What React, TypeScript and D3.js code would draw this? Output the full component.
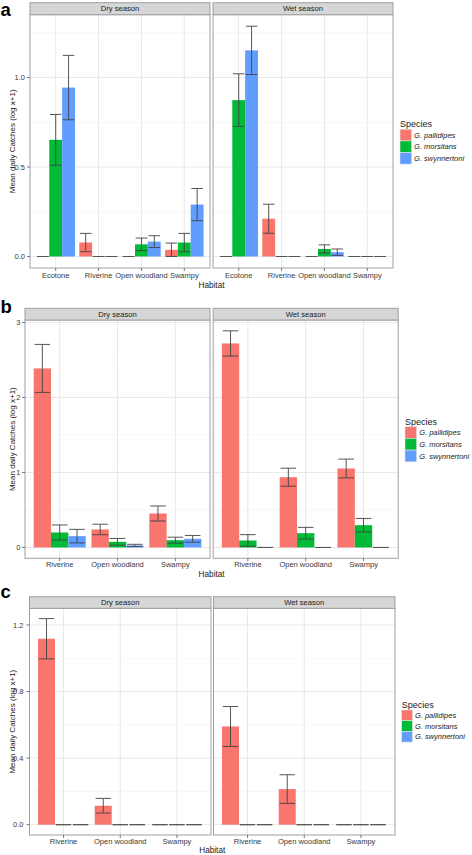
import React from "react";
import * as d3 from "d3";

const species = ["G. pallidipes", "G. morsitans", "G. swynnertoni"];
const speciesColors = ["#F8766D", "#00BA38", "#619CFF"];
const seasons = ["Dry season", "Wet season"];

const habitatsA = ["Ecotone", "Riverine", "Open woodland", "Swampy"];
const habitatsBC = ["Riverine", "Open woodland", "Swampy"];

// [species][habitat]
const aDryMean = [[0, 0.078, 0, 0.037], [0.652, 0, 0.068, 0.078], [0.944, 0, 0.083, 0.29]];
const aDryErr = [[0, 0.051, 0, 0.038], [0.142, 0, 0.035, 0.051], [0.18, 0, 0.033, 0.09]];
const aWetMean = [[0, 0.211, 0, 0], [0.874, 0, 0.042, 0], [1.152, 0, 0.024, 0]];
const aWetErr = [[0, 0.081, 0, 0], [0.147, 0, 0.023, 0], [0.135, 0, 0.018, 0]];

const bDryMean = [[2.387, 0.24, 0.453], [0.2, 0.075, 0.097], [0.151, 0.027, 0.115]];
const bDryErr = [[0.32, 0.07, 0.1], [0.1, 0.045, 0.04], [0.09, 0.015, 0.045]];
const bWetMean = [[2.72, 0.937, 1.053], [0.093, 0.19, 0.297], [0, 0, 0]];
const bWetErr = [[0.168, 0.12, 0.125], [0.078, 0.078, 0.09], [0, 0, 0]];

const cDryMean = [[1.117, 0.114, 0], [0, 0, 0], [0, 0, 0]];
const cDryErr = [[0.121, 0.044, 0], [0, 0, 0], [0, 0, 0]];
const cWetMean = [[0.59, 0.214, 0], [0, 0, 0], [0, 0, 0]];
const cWetErr = [[0.12, 0.086, 0], [0, 0, 0], [0, 0, 0]];

const aTicks = [0, 0.5, 1.0];
const bTicks = [0, 1, 2, 3];
const cTicks = [0, 0.4, 0.8, 1.2];

const FONT = "Liberation Sans, Arial, Helvetica, sans-serif";

type Layout = {
  label: string;
  labelY: number;
  stripTop: number;
  panelTop: number;
  panelBottom: number;
  left: number;
  width: number;
  gap: number;
  yLabelX: number;
  xLabelY: number;
  habitatY: number;
  legendX: number;
  legendTitleY: number;
  legendKeyTop: number;
  keySize: number;
  fmt: string;
};

type Facet = {
  layout: Layout;
  habitats: string[];
  means: number[][][];
  errs: number[][][];
  ticks: number[];
};

const facets: Facet[] = [
  {
    layout: {
      label: "a", labelY: 16, stripTop: 2.7, panelTop: 14.7, panelBottom: 268,
      left: 30, width: 180, gap: 3, yLabelX: 25, xLabelY: 277.8, habitatY: 287.5,
      legendX: 400, legendTitleY: 126.5, legendKeyTop: 129.3, keySize: 11.6, fmt: ".1f",
    },
    habitats: habitatsA,
    means: [aDryMean, aWetMean],
    errs: [aDryErr, aWetErr],
    ticks: aTicks,
  },
  {
    layout: {
      label: "b", labelY: 313, stripTop: 308.3, panelTop: 320, panelBottom: 558.3,
      left: 25, width: 185, gap: 3.2, yLabelX: 20.5, xLabelY: 567.2, habitatY: 576.5,
      legendX: 405, legendTitleY: 425, legendKeyTop: 426.7, keySize: 11.7, fmt: "d",
    },
    habitats: habitatsBC,
    means: [bDryMean, bWetMean],
    errs: [bDryErr, bWetErr],
    ticks: bTicks,
  },
  {
    layout: {
      label: "c", labelY: 598, stripTop: 596.7, panelTop: 608.3, panelBottom: 835,
      left: 29.5, width: 181.5, gap: 2.5, yLabelX: 23.5, xLabelY: 843.8, habitatY: 852.5,
      legendX: 401.7, legendTitleY: 707.5, legendKeyTop: 710, keySize: 10.7, fmt: ".1f",
    },
    habitats: habitatsBC,
    means: [cDryMean, cWetMean],
    errs: [cDryErr, cWetErr],
    ticks: cTicks,
  },
];

function FacetFigure({ f }: { f: Facet }) {
  const L = f.layout;
  let maxV = 0;
  f.means.forEach((m, si) =>
    m.forEach((row, sp) => row.forEach((v, h) => { maxV = Math.max(maxV, v + f.errs[si][sp][h]); }))
  );
  const y = d3.scaleLinear().domain([-0.05 * maxV, 1.05 * maxV]).range([L.panelBottom, L.panelTop]);
  const fmt = d3.format(L.fmt);
  const step = f.ticks[1] - f.ticks[0];
  const minor: number[] = [];
  const [d0, d1] = y.domain();
  for (let i = -1; i < f.ticks.length; i++) {
    const v = (i < 0 ? f.ticks[0] - step : f.ticks[i]) + step / 2;
    if (v > d0 && v < d1) minor.push(v);
  }
  const n = f.habitats.length;
  const plotRight = L.left + 2 * L.width + L.gap;
  const barW = 0.3;
  const ebW = 0.27;

  return (
    <g>
      <text x={0.5} y={L.labelY} fontFamily={FONT} fontWeight="bold" fontSize={18.5} fill="#000">{L.label}</text>
      {seasons.map((s, si) => {
        const x0 = L.left + si * (L.width + L.gap);
        const x = d3.scaleLinear().domain([0.4, n + 0.6]).range([x0, x0 + L.width]);
        return (
          <g key={s}>
            <rect x={x0} y={L.panelTop} width={L.width} height={L.panelBottom - L.panelTop} fill="#fff" />
            {minor.map((v) => (
              <line key={"mi" + v} x1={x0} x2={x0 + L.width} y1={y(v)} y2={y(v)} stroke="#F2F2F2" strokeWidth={0.6} />
            ))}
            {f.ticks.map((v) => (
              <line key={"ma" + v} x1={x0} x2={x0 + L.width} y1={y(v)} y2={y(v)} stroke="#E8E8E8" strokeWidth={1} />
            ))}
            {f.habitats.map((h, hi) => (
              <line key={"vg" + h} x1={x(hi + 1)} x2={x(hi + 1)} y1={L.panelTop} y2={L.panelBottom} stroke="#E8E8E8" strokeWidth={1} />
            ))}
            {f.habitats.map((h, hi) =>
              species.map((sp, spi) => {
                const m = f.means[si][spi][hi];
                const c = hi + 1 + (spi - 1) * barW;
                const top = y(Math.max(m, 0));
                return (
                  <rect key={h + sp} x={x(c - barW / 2)} width={x(c + barW / 2) - x(c - barW / 2)}
                    y={top} height={y(0) - top} fill={speciesColors[spi]} />
                );
              })
            )}
            {f.habitats.map((h, hi) =>
              species.map((sp, spi) => {
                const m = f.means[si][spi][hi];
                const e = f.errs[si][spi][hi];
                const c = hi + 1 + (spi - 1) * barW;
                const lo = Math.max(0, m - e);
                const hiV = m + e;
                const xl = x(c - ebW / 2), xr = x(c + ebW / 2), xc = x(c);
                return (
                  <g key={"eb" + h + sp} stroke="#444" strokeWidth={1} opacity={0.9}>
                    <line x1={xl} x2={xr} y1={y(hiV)} y2={y(hiV)} />
                    <line x1={xl} x2={xr} y1={y(lo)} y2={y(lo)} />
                    <line x1={xc} x2={xc} y1={y(hiV)} y2={y(lo)} />
                  </g>
                );
              })
            )}
            <rect x={x0} y={L.panelTop} width={L.width} height={L.panelBottom - L.panelTop} fill="none" stroke="#A0A0A0" strokeWidth={1} />
            <rect x={x0} y={L.stripTop} width={L.width} height={L.panelTop - L.stripTop} fill="#D6D6D6" stroke="#A0A0A0" strokeWidth={1} />
            <text x={x0 + L.width / 2} y={(L.stripTop + L.panelTop) / 2 + 2.7} textAnchor="middle" fontFamily={FONT} fontSize={7.6} fill="#1A1A1A">{s}</text>
            {f.habitats.map((h, hi) => (
              <g key={"xt" + h}>
                <line x1={x(hi + 1)} x2={x(hi + 1)} y1={L.panelBottom} y2={L.panelBottom + 3} stroke="#555" strokeWidth={0.8} />
                <text x={x(hi + 1)} y={L.xLabelY} textAnchor="middle" fontFamily={FONT} fontSize={7.5} fill="#3A3A3A">{h}</text>
              </g>
            ))}
          </g>
        );
      })}
      {f.ticks.map((v) => (
        <g key={"yt" + v}>
          <line x1={L.left - 3} x2={L.left} y1={y(v)} y2={y(v)} stroke="#555" strokeWidth={0.8} />
          <text x={L.yLabelX} y={y(v)} dy="0.35em" textAnchor="end" fontFamily={FONT} fontSize={7.5} fill="#3A3A3A">{fmt(v)}</text>
        </g>
      ))}
      <text transform={`translate(${12 + 2.8},${(L.panelTop + L.panelBottom) / 2}) rotate(-90)`} textAnchor="middle"
        fontFamily={FONT} fontSize={8} fill="#1A1A1A">Mean daily Catches (log x+1)</text>
      <text x={(L.left + plotRight) / 2} y={L.habitatY} textAnchor="middle" fontFamily={FONT} fontSize={8.2} fill="#1A1A1A">Habitat</text>
      <text x={L.legendX} y={L.legendTitleY} fontFamily={FONT} fontSize={9} fill="#1A1A1A">Species</text>
      {species.map((sp, i) => (
        <g key={"lg" + sp}>
          <rect x={L.legendX} y={L.legendKeyTop + i * L.keySize} width={L.keySize} height={L.keySize}
            fill={speciesColors[i]} stroke="#E0E0E0" strokeWidth={0.6} />
          <text x={L.legendX + L.keySize + 2.5} y={L.legendKeyTop + (i + 0.5) * L.keySize + 2.7}
            fontFamily={FONT} fontStyle="italic" fontSize={7.5} fill="#1A1A1A">{sp}</text>
        </g>
      ))}
    </g>
  );
}

export default function App() {
  return (
    <svg width={472} height={855} style={{ position: "absolute", left: 0, top: 0, background: "#fff" }}>
      <rect x={0} y={0} width={472} height={855} fill="#fff" />
      {facets.map((f) => (
        <FacetFigure key={f.layout.label} f={f} />
      ))}
    </svg>
  );
}
